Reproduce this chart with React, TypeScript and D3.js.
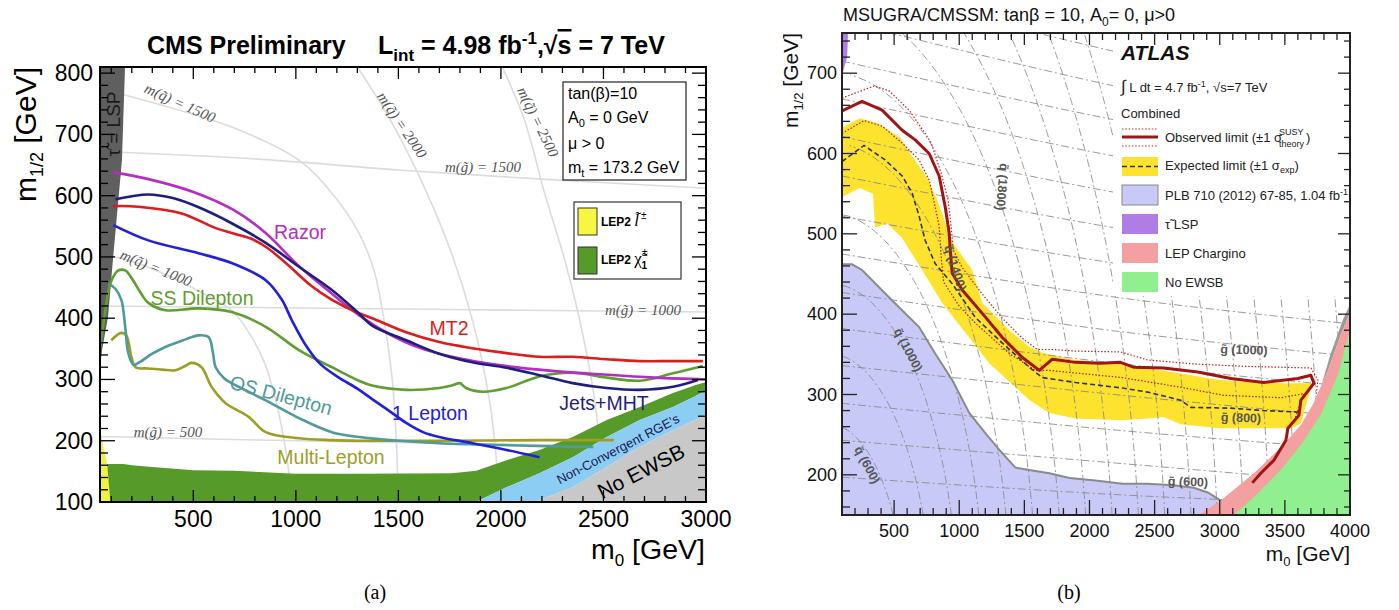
import React from "react";
import * as d3 from "d3";

type P = [number, number];

// ================= Panel (a): CMS =================
const cmsXTicks = [500, 1000, 1500, 2000, 2500, 3000];
const cmsYTicks = [100, 200, 300, 400, 500, 600, 700, 800];

const cmsRazor: P[] = [[110,638],[281,627],[500,606],[700,576],[850,540],[1015,485],[1176,440],[1308,405],[1450,375],[1600,352],[1750,338],[2000,323],[2250,314],[2500,308],[2750,303],[3000,300]];
const cmsJetsMHT: P[] = [[120,594],[281,602],[400,596],[526,581],[687,555],[853,523],[1015,484],[1176,446],[1300,410],[1372,388],[1538,364],[1699,342],[1861,328],[2027,319],[2188,307],[2350,294],[2516,286],[2677,283],[2839,288],[2961,299]];
const cmsMT2: P[] = [[110,583],[232,582],[443,571],[609,547],[700,538],[780,530],[860,515],[951,490],[1078,452],[1176,430],[1308,408],[1372,400],[1538,377],[1699,361],[1861,351],[2027,343],[2188,337],[2350,337],[2516,333],[2677,330],[2839,330],[2985,330]];
const cms1Lepton: P[] = [[110,552],[281,527],[526,506],[687,490],[853,462],[932,430],[980,397],[1050,355],[1120,325],[1210,303],[1300,285],[1372,268],[1450,250],[1538,229],[1620,214],[1699,206],[1861,196],[2027,185],[2188,173]];
const cmsSSDilepton: P[] = [[48,355],[70,410],[90,450],[110,468],[135,478],[168,478],[200,465],[240,443],[281,425],[364,413],[526,416],[687,410],[853,386],[1015,348],[1176,320],[1308,298],[1372,290],[1538,283],[1699,286],[1760,290],[1800,294],[1815,290],[1830,286],[1910,280],[2027,286],[2188,305],[2350,311],[2516,303],[2677,298],[2839,310],[2985,322]];
const cmsOSDilepton: P[] = [[86,457],[120,448],[149,430],[168,386],[183,343],[208,324],[232,327],[300,342],[364,353],[450,364],[526,372],[575,369],[595,345],[609,320],[650,302],[687,294],[853,266],[1015,237],[1176,214],[1308,206],[1500,200],[1699,196],[2000,193],[2350,190],[2450,190]];
const cmsMultiLepton: P[] = [[100,364],[149,376],[173,372],[198,337],[218,320],[281,318],[350,316],[413,315],[460,322],[491,327],[540,320],[589,288],[658,261],[770,239],[853,214],[1015,204],[1176,201],[1308,200],[1700,200],[2200,201],[2550,201]];

const cmsStauLSP: P[] = [[45,810],[167,810],[152,658],[108,495],[84,402],[55,348],[45,320]];
const cmsLEPSlepton: P[] = [[45,100],[45,218],[62,190],[80,162],[95,100]];
const cmsLEPChargTop: P[] = [[80,162],[160,162],[200,160],[300,157],[500,152],[700,151],[1000,146],[1300,146],[1760,147],[1880,151],[2027,168],[2188,185],[2350,206],[2516,234],[2677,255],[2839,278],[2950,291],[3000,296]];
const cmsNCUpper: P[] = [[1880,100],[1895,103],[2027,124],[2188,147],[2350,173],[2516,206],[2677,234],[2839,255],[2937,271],[3000,282]];
const cmsNCLower: P[] = [[2150,100],[2188,103],[2350,124],[2516,157],[2677,190],[2839,217],[3000,242]];

const cmsSquark1000: P[] = [[45,505],[200,493],[400,466],[550,440],[687,413],[780,372],[850,325],[902,266],[940,205],[966,147],[975,100]];
const cmsSquark1500: P[] = [[45,775],[300,752],[687,712],[1015,658],[1176,604],[1308,539],[1381,478],[1430,397],[1470,300],[1490,200],[1500,100]];
const cmsSquark2000: P[] = [[1300,810],[1450,730],[1587,642],[1748,516],[1861,397],[1944,266],[1975,180],[1990,100]];
const cmsSquark2500: P[] = [[2007,810],[2115,723],[2213,604],[2311,495],[2384,397],[2457,266],[2491,152],[2501,100]];
const cmsGluino1500: P[] = [[45,672],[800,660],[1500,642],[2200,627],[3000,612]];
const cmsGluino1000: P[] = [[45,420],[1500,415],[3000,410]];
const cmsGluino500: P[] = [[45,207],[1300,198],[3000,190]];

// ================= Panel (b): ATLAS =================
const atlasXTicks = [500, 1000, 1500, 2000, 2500, 3000, 3500, 4000];
const atlasYTicks = [200, 300, 400, 500, 600, 700];

const atlasObserved: P[] = [[100,653],[254,665],[408,654],[562,629],[662,617],[769,600],[846,572],[892,534],[923,501],[931,480],[946,451],[1023,430],[1177,401],[1331,371],[1485,346],[1615,330],[1715,344],[1892,340],[2085,339],[2238,340],[2338,334],[2569,333],[2831,328],[3085,320],[3338,315],[3600,320],[3700,324],[3723,314],[3623,293],[3608,274],[3523,258],[3508,243],[3415,218],[3315,202],[3250,190]];
const atlasObsUp: P[] = [[100,669],[346,684],[462,678],[615,654],[738,625],[785,613],[862,575],[915,542],[938,509],[954,480],[1023,458],[1177,425],[1331,395],[1485,370],[1600,356],[1715,356],[1892,354],[2238,353],[2446,343],[2800,338],[3200,335],[3700,333],[3754,318],[3740,300]];
const atlasObsDown: P[] = [[100,625],[269,641],[408,634],[562,613],[692,592],[769,567],[815,534],[846,509],[862,470],[880,440],[1000,410],[1123,389],[1385,351],[1585,330],[1692,330],[2254,321],[2700,309],[3031,299],[3469,296],[3646,301],[3600,280],[3560,262]];
const atlasExpected: P[] = [[100,590],[269,610],[431,592],[562,572],[638,551],[692,522],[738,492],[815,463],[946,438],[1123,396],[1331,364],[1538,334],[1638,321],[1892,315],[2254,308],[2446,303],[2700,293],[2777,284],[3085,283],[3338,280],[3620,278]];
const atlasExpUpper: P[] = [[100,632],[238,644],[369,638],[546,620],[623,600],[754,570],[831,542],[908,508],[954,488],[1100,455],[1177,414],[1385,380],[1538,359],[1638,352],[1892,343],[2254,338],[2446,333],[2700,326],[3000,318],[3300,315],[3500,314],[3723,314]];
const atlasExpLower: P[] = [[100,546],[238,557],[338,550],[354,508],[446,513],[560,495],[715,455],[869,414],[1077,371],[1231,339],[1431,309],[1538,293],[1692,277],[1892,270],[2254,268],[2446,270],[2569,272],[2700,263],[3000,258],[3300,258],[3550,258],[3623,264],[3700,309],[3723,314]];
const atlasPLBEdge: P[] = [[100,462],[177,462],[254,455],[485,417],[692,384],[815,351],[946,318],[1077,277],[1200,252],[1308,231],[1431,209],[1538,206],[1692,202],[1846,196],[2046,193],[2254,189],[2446,189],[2646,187],[2800,184],[2908,178],[3008,168],[3100,156],[3140,150]];
const atlasStauLSP: P[] = [[100,750],[146,750],[140,720],[100,697]];
const atlasLEPEdge: P[] = [[2840,150],[3008,168],[3262,202],[3469,234],[3623,262],[3723,290],[3831,330],[3931,375],[4000,402]];
const atlasEWSBEdge: P[] = [[3108,150],[3262,172],[3469,206],[3623,237],[3777,275],[3908,325],[4000,380]];
const atlasGreyEdge: P[] = [[3760,300],[3850,350],[3950,395],[4000,412]];

// iso-mass guide lines: squark masses (arcs) and gluino lines read at m0 = 100, 2250, 4000
const atlasSquarkMasses = [600, 800, 1000, 1200, 1400, 1600, 1800, 2000, 2200, 2400, 2600, 2800, 3000, 3200, 3400, 3600, 3800, 4000];
const atlasGluinoLines: P[][] = [
  [[100,197],[2250,175],[4000,163]],
  [[100,243],[2250,214],[4000,190]],
  [[100,289],[2250,255],[4000,232]],
  [[100,336],[2250,299],[4000,272]],
  [[100,382],[2250,338],[4000,310]],
  [[100,427],[2250,378],[4000,348]],
  [[100,475],[2250,420],[4000,388]],
  [[100,522],[2250,462],[4000,427]],
  [[100,572],[2250,506],[4000,468]],
  [[100,621],[2250,550],[4000,508]],
  [[100,668],[2250,595],[4000,550]],
  [[100,715],[2250,640],[4000,590]],
  [[100,765],[2250,682],[4000,630]],
  [[100,812],[2250,725],[4000,670]],
];

const FONT = "'Liberation Sans', Arial, Helvetica, sans-serif";
const SERIF = "'Liberation Serif', 'Times New Roman', serif";

export default function App() {
  const xA = d3.scaleLinear().domain([45, 3000]).range([100, 706]);
  const yA = d3.scaleLinear().domain([100, 810]).range([502, 67]);
  const xB = d3.scaleLinear().domain([100, 4000]).range([842, 1350]);
  const yB = d3.scaleLinear().domain([150, 750]).range([515, 33]);

  const smoothA = d3.line<P>().x(d => xA(d[0])).y(d => yA(d[1])).curve(d3.curveCatmullRom.alpha(0.5));
  const linA = d3.line<P>().x(d => xA(d[0])).y(d => yA(d[1]));
  const polyA = (pts: P[]) => (linA(pts) || "") + "Z";
  const linB = d3.line<P>().x(d => xB(d[0])).y(d => yB(d[1]));
  const smoothB = d3.line<P>().x(d => xB(d[0])).y(d => yB(d[1])).curve(d3.curveCatmullRom.alpha(0.5));
  const polyB = (pts: P[]) => (linB(pts) || "") + "Z";

  const chargPoly: P[] = [[95, 100], ...cmsLEPChargTop, ...[...cmsNCUpper].reverse()];
  const ncPoly: P[] = [...cmsNCUpper, ...[...cmsNCLower].reverse()];
  const ewsbPoly: P[] = [...cmsNCLower, [3000, 100]];

  const bandPoly: P[] = [...atlasExpUpper, ...[...atlasExpLower].reverse()];
  const plbPoly: P[] = [[100, 150], ...atlasPLBEdge];
  const lepPoly: P[] = [...atlasLEPEdge, [4000, 150]];
  const ewsbPolyB: P[] = [...atlasEWSBEdge, [4000, 150]];
  const greyPolyB: P[] = [...atlasGreyEdge, ...[...atlasLEPEdge].reverse().slice(0, 4)];

  const squarkArcs = atlasSquarkMasses.map(mq => {
    const pts: P[] = [];
    for (const mh of d3.range(150, 752, 4)) {
      const v = mq * mq - 5.2 * mh * mh;
      if (v >= 0) pts.push([Math.sqrt(v), mh]);
    }
    return pts;
  });

  const aYMinor = d3.range(100, 811, 20).filter(v => v % 100 !== 0);
  const aXMinor = d3.range(100, 3001, 100).filter(v => v % 500 !== 0);
  const bYMinor = d3.range(160, 751, 20).filter(v => v % 100 !== 0);
  const bXMinor = d3.range(200, 4000, 100).filter(v => v % 500 !== 0);

  const curveLabel = (x: number, y: number, t: string, c: string, rot = 0) => (
    <text x={x} y={y} fill={c} fontFamily={FONT} fontSize={19.5} textAnchor="middle" dominantBaseline="central"
      transform={rot ? `rotate(${rot} ${x} ${y})` : undefined}>{t}</text>
  );
  const massLabel = (x: number, y: number, q: string, v: string, rot = 0) => (
    <text x={x} y={y} fill="#555" fontFamily={SERIF} fontStyle="italic" fontSize={15} textAnchor="middle" dominantBaseline="central"
      transform={rot ? `rotate(${rot} ${x} ${y})` : undefined}>{`m(${q}) = ${v}`}</text>
  );
  const atlasMassLabel = (x: number, y: number, t: string, rot = 0) => (
    <text x={x} y={y} fill="#555" fontFamily={FONT} fontWeight="bold" fontSize={12.5} textAnchor="middle" dominantBaseline="central"
      transform={rot ? `rotate(${rot} ${x} ${y})` : undefined}>{t}</text>
  );

  return (
    <svg width={1399} height={610} style={{ position: "absolute", left: 0, top: 0, background: "#fff" }}
      xmlns="http://www.w3.org/2000/svg">
      <defs>
        <clipPath id="clipA"><rect x={100} y={67} width={606} height={435} /></clipPath>
        <clipPath id="clipB"><rect x={842} y={33} width={508} height={482} /></clipPath>
      </defs>

      {/* ================= Panel (a) ================= */}
      <text x={147} y={54} fontFamily={FONT} fontWeight="bold" fontSize={25}>CMS Preliminary</text>
      <text x={378} y={54} fontFamily={FONT} fontWeight="bold" fontSize={25}>
        L<tspan dy={7} fontSize={17}>int</tspan><tspan dy={-7}> = 4.98 fb</tspan>
        <tspan dy={-10} fontSize={17}>-1</tspan><tspan dy={10}>,√</tspan>
        <tspan textDecoration="overline">s</tspan><tspan> = 7 TeV</tspan>
      </text>

      <g clipPath="url(#clipA)">
        <rect x={100} y={67} width={606} height={435} fill="#fff" />
        {[cmsSquark1000, cmsSquark1500, cmsSquark2000, cmsSquark2500, cmsGluino1500, cmsGluino1000, cmsGluino500].map((c, i) => (
          <path key={i} d={smoothA(c) || ""} fill="none" stroke="#dcdcdc" strokeWidth={1.6} />
        ))}
        <path d={polyA(cmsStauLSP)} fill="#5f5f5f" />
        <path d={polyA(cmsLEPSlepton)} fill="#f2f23c" />
        <path d={polyA(chargPoly)} fill="#569a2a" />
        <path d={polyA(ncPoly)} fill="#8ccdf3" />
        <path d={polyA(ewsbPoly)} fill="#c8c8c8" />
        <path d={smoothA(cmsMultiLepton) || ""} fill="none" stroke="#9e9e26" strokeWidth={2.6} />
        <path d={smoothA(cmsOSDilepton) || ""} fill="none" stroke="#4f9a9a" strokeWidth={2.6} />
        <path d={smoothA(cmsSSDilepton) || ""} fill="none" stroke="#5f9e30" strokeWidth={2.6} />
        <path d={smoothA(cms1Lepton) || ""} fill="none" stroke="#2020dd" strokeWidth={2.6} />
        <path d={smoothA(cmsRazor) || ""} fill="none" stroke="#b52dc2" strokeWidth={2.6} />
        <path d={smoothA(cmsMT2) || ""} fill="none" stroke="#dd1c1c" strokeWidth={2.6} />
        <path d={smoothA(cmsJetsMHT) || ""} fill="none" stroke="#1e1e80" strokeWidth={2.6} />
      </g>

      {massLabel(180, 103, "q̃", "1500", 24)}
      {massLabel(156, 268, "q̃", "1000", 22)}
      {massLabel(402, 125, "q̃", "2000", 56)}
      {massLabel(538, 122, "q̃", "2500", 64)}
      {massLabel(483, 167, "g̃", "1500")}
      {massLabel(643, 310, "g̃", "1000")}
      {massLabel(168, 432, "g̃", "500")}

      <text x={113} y={124} fill="#1a1a1a" fontFamily={FONT} fontSize={19} textAnchor="middle" dominantBaseline="central"
        transform="rotate(-90 113 124)">τ̃ = LSP</text>

      {curveLabel(300, 232, "Razor", "#b52dc2")}
      {curveLabel(202, 298, "SS Dilepton", "#5f9e30")}
      {curveLabel(449, 328, "MT2", "#dd1c1c")}
      {curveLabel(281, 395, "OS Dilepton", "#4f9a9a", 15)}
      {curveLabel(430, 413, "1 Lepton", "#2020dd")}
      {curveLabel(604, 403, "Jets+MHT", "#1e1e80")}
      {curveLabel(331, 457, "Multi-Lepton", "#9e9e26")}
      <text x={618} y={449} fill="#1a1a50" fontFamily={FONT} fontSize={13} textAnchor="middle" dominantBaseline="central"
        transform="rotate(-27.5 618 449)">Non-Convergent RGE's</text>
      <text x={641} y={471} fill="#000" fontFamily={FONT} fontSize={21} textAnchor="middle" dominantBaseline="central"
        transform="rotate(-27 641 471)">No EWSB</text>

      <rect x={563} y={82} width={123} height={98} fill="#fff" stroke="#222" strokeWidth={1.2} />
      <g fontFamily={FONT} fontSize={16} fill="#000">
        <text x={568} y={99}>tan(β)=10</text>
        <text x={568} y={123}>A<tspan dy={4} fontSize={11}>0</tspan><tspan dy={-4}> = 0 GeV</tspan></text>
        <text x={568} y={149}>μ &gt; 0</text>
        <text x={568} y={173}>m<tspan dy={4} fontSize={11}>t</tspan><tspan dy={-4}> = 173.2 GeV</tspan></text>
      </g>

      <rect x={574} y={202} width={107} height={77} fill="#fff" stroke="#333" strokeWidth={1.2} />
      <rect x={578} y={208} width={19} height={27} fill="#f7f742" stroke="#333" strokeWidth={1} />
      <rect x={578} y={247} width={19} height={27} fill="#569a2a" stroke="#333" strokeWidth={1} />
      <text x={601} y={226} fontFamily={FONT} fontWeight="bold" fontSize={12}>LEP2 <tspan fontFamily={SERIF} fontStyle="italic" fontWeight="normal" fontSize={17}>l̃</tspan><tspan dx={2} dy={-7} fontSize={10} fontWeight="normal">±</tspan></text>
      <text x={601} y={264} fontFamily={FONT} fontWeight="bold" fontSize={12}>LEP2 <tspan fontFamily={SERIF} fontWeight="normal" fontSize={17}>χ̃</tspan><tspan dy={-8} fontSize={10} fontWeight="normal">±</tspan><tspan dx={-6} dy={13} fontSize={10}>1</tspan></text>

      <g stroke="#000" strokeWidth={1.3}>
        {cmsYTicks.map(v => <g key={"ay" + v}>
          <line x1={100} x2={115} y1={yA(v)} y2={yA(v)} />
          <line x1={706} x2={692} y1={yA(v)} y2={yA(v)} />
        </g>)}
        {aYMinor.map(v => <g key={"aym" + v}>
          <line x1={100} x2={108} y1={yA(v)} y2={yA(v)} />
          <line x1={706} x2={698} y1={yA(v)} y2={yA(v)} />
        </g>)}
        {cmsXTicks.map(v => <g key={"ax" + v}>
          <line x1={xA(v)} x2={xA(v)} y1={502} y2={490} />
          <line x1={xA(v)} x2={xA(v)} y1={67} y2={79} />
        </g>)}
        {aXMinor.map(v => <g key={"axm" + v}>
          <line x1={xA(v)} x2={xA(v)} y1={502} y2={496} />
          <line x1={xA(v)} x2={xA(v)} y1={67} y2={73} />
        </g>)}
      </g>
      <rect x={100} y={67} width={606} height={435} fill="none" stroke="#000" strokeWidth={2} />
      <g fontFamily={FONT} fontSize={23} fill="#000">
        {cmsYTicks.map(v => <text key={"ayl" + v} x={93} y={yA(v) + 8} textAnchor="end">{v}</text>)}
        {cmsXTicks.map(v => <text key={"axl" + v} x={xA(v)} y={527} textAnchor="middle">{v}</text>)}
      </g>
      <text x={36} y={67} fontFamily={FONT} fontSize={30} textAnchor="end" transform="rotate(-90 36 67)">
        m<tspan dy={7} fontSize={18}>1/2</tspan><tspan dy={-7}> [GeV]</tspan>
      </text>
      <text x={705} y={559} fontFamily={FONT} fontSize={28.5} textAnchor="end">
        m<tspan dy={7} fontSize={17}>0</tspan><tspan dy={-7}> [GeV]</tspan>
      </text>
      <text x={375} y={599} fontFamily={SERIF} fontSize={20} textAnchor="middle">(a)</text>

      {/* ================= Panel (b) ================= */}
      <text x={843} y={21} fontFamily={FONT} fontSize={18} fill="#111">
        MSUGRA/CMSSM: tanβ = 10, A<tspan dy={5} fontSize={12}>0</tspan><tspan dy={-5}>= 0, μ&gt;0</tspan>
      </text>

      <g clipPath="url(#clipB)">
        <rect x={842} y={33} width={508} height={482} fill="#fff" />
        <path d={polyB(bandPoly)} fill="#fde22e" />
        <path d={polyB(plbPoly)} fill="#c9c9f7" />
        <path d={polyB(atlasStauLSP)} fill="#b07de6" />
        {squarkArcs.map((a, i) => (
          <path key={"sq" + i} d={linB(a) || ""} fill="none" stroke="#888" strokeWidth={1} strokeDasharray="8,3,2,3" opacity={0.85} />
        ))}
        {atlasGluinoLines.map((a, i) => (
          <path key={"gl" + i} d={smoothB(a) || ""} fill="none" stroke="#888" strokeWidth={1} strokeDasharray="8,3,2,3" opacity={0.85} />
        ))}
        <path d={linB(atlasPLBEdge) || ""} fill="none" stroke="#8a8a8a" strokeWidth={2} />
        <path d={polyB(greyPolyB)} fill="#9a9a9a" />
        <path d={polyB(lepPoly)} fill="#f4a0a0" />
        <path d={polyB(ewsbPolyB)} fill="#90f090" />
        <path d={linB(atlasExpected) || ""} fill="none" stroke="#333" strokeWidth={1.6} strokeDasharray="5,3" />
        <path d={linB(atlasObsUp) || ""} fill="none" stroke="#c42020" strokeWidth={1.2} strokeDasharray="1.5,1.8" />
        <path d={linB(atlasObsDown) || ""} fill="none" stroke="#b02010" strokeWidth={1.2} strokeDasharray="1.5,1.8" />
        <path d={linB(atlasObserved) || ""} fill="none" stroke="#a01414" strokeWidth={3} strokeLinejoin="round" />
      </g>

      {atlasMassLabel(867, 465, "q̃ (600)", 62)}
      {atlasMassLabel(908, 350, "q̃ (1000)", 62)}
      {atlasMassLabel(955, 268, "q̃ (1400)", 72)}
      {atlasMassLabel(1002, 187, "q̃ (1800)", 95)}
      {atlasMassLabel(1244, 350, "g̃ (1000)", 2)}
      {atlasMassLabel(1241, 418, "g̃ (800)", 2)}
      {atlasMassLabel(1188, 482, "g̃ (600)", 2)}

      <rect x={1113} y={34} width={236} height={262} fill="#fff" />
      <text x={1121} y={60} fontFamily={FONT} fontWeight="bold" fontStyle="italic" fontSize={21} fill="#111">ATLAS</text>
      <g fontFamily={FONT} fontSize={13} fill="#222">
        <text x={1121} y={92}><tspan fontSize={17}>∫</tspan> L dt = 4.7 fb<tspan dy={-5} fontSize={9}>-1</tspan><tspan dy={5}>, √s=7 TeV</tspan></text>
        <text x={1121} y={118}>Combined</text>
        <text x={1165} y={142}>Observed limit (±1 σ</text>
        <text x={1279} y={135} fontSize={9}>SUSY</text>
        <text x={1279} y={147} fontSize={9}>theory</text>
        <text x={1306} y={142}>)</text>
        <text x={1165} y={170}>Expected limit (±1 σ<tspan dy={3} fontSize={9}>exp</tspan><tspan dy={-3}>)</tspan></text>
        <text x={1165} y={200}>PLB 710 (2012) 67-85, 1.04 fb<tspan dy={-5} fontSize={9}>-1</tspan></text>
        <text x={1165} y={229}>τ̃ LSP</text>
        <text x={1165} y={258}>LEP Chargino</text>
        <text x={1165} y={287}>No EWSB</text>
      </g>
      <line x1={1122} x2={1158} y1={129} y2={129} stroke="#c42020" strokeWidth={1.2} strokeDasharray="1.5,1.8" />
      <line x1={1122} x2={1158} y1={137} y2={137} stroke="#a01414" strokeWidth={3} />
      <line x1={1122} x2={1158} y1={146} y2={146} stroke="#c42020" strokeWidth={1.2} strokeDasharray="1.5,1.8" />
      <rect x={1122} y={157} width={36} height={19} fill="#fde22e" />
      <line x1={1122} x2={1158} y1={166.5} y2={166.5} stroke="#333" strokeWidth={1.6} strokeDasharray="5,3" />
      <rect x={1122} y={185} width={36} height={20} fill="#c9c9f7" stroke="#888" strokeWidth={1} />
      <rect x={1122} y={214} width={36} height={20} fill="#b07de6" />
      <rect x={1122} y={243} width={36} height={20} fill="#f4a0a0" />
      <rect x={1122} y={272} width={36} height={20} fill="#90f090" />

      <g stroke="#222" strokeWidth={1.3}>
        {atlasYTicks.map(v => <g key={"by" + v}>
          <line x1={842} x2={857} y1={yB(v)} y2={yB(v)} />
          <line x1={1350} x2={1338} y1={yB(v)} y2={yB(v)} />
        </g>)}
        {bYMinor.map(v => <g key={"bym" + v}>
          <line x1={842} x2={850} y1={yB(v)} y2={yB(v)} />
          <line x1={1350} x2={1344} y1={yB(v)} y2={yB(v)} />
        </g>)}
        {atlasXTicks.map(v => <g key={"bx" + v}>
          <line x1={xB(v)} x2={xB(v)} y1={515} y2={500} />
          <line x1={xB(v)} x2={xB(v)} y1={33} y2={45} />
        </g>)}
        {bXMinor.map(v => <g key={"bxm" + v}>
          <line x1={xB(v)} x2={xB(v)} y1={515} y2={508} />
          <line x1={xB(v)} x2={xB(v)} y1={33} y2={40} />
        </g>)}
      </g>
      <rect x={842} y={33} width={508} height={482} fill="none" stroke="#222" strokeWidth={2} />
      <g fontFamily={FONT} fontSize={18} fill="#111">
        {atlasYTicks.map(v => <text key={"byl" + v} x={837} y={yB(v) + 6} textAnchor="end">{v}</text>)}
        {atlasXTicks.map(v => <text key={"bxl" + v} x={xB(v)} y={537} textAnchor="middle">{v}</text>)}
      </g>
      <text x={798} y={33} fontFamily={FONT} fontSize={21} textAnchor="end" fill="#111" transform="rotate(-90 798 33)">
        m<tspan dy={5} fontSize={13}>1/2</tspan><tspan dy={-5}> [GeV]</tspan>
      </text>
      <text x={1350} y={561} fontFamily={FONT} fontSize={21} textAnchor="end" fill="#111">
        m<tspan dy={5} fontSize={13}>0</tspan><tspan dy={-5}> [GeV]</tspan>
      </text>
      <text x={1069} y={599} fontFamily={SERIF} fontSize={20} textAnchor="middle">(b)</text>
    </svg>
  );
}
